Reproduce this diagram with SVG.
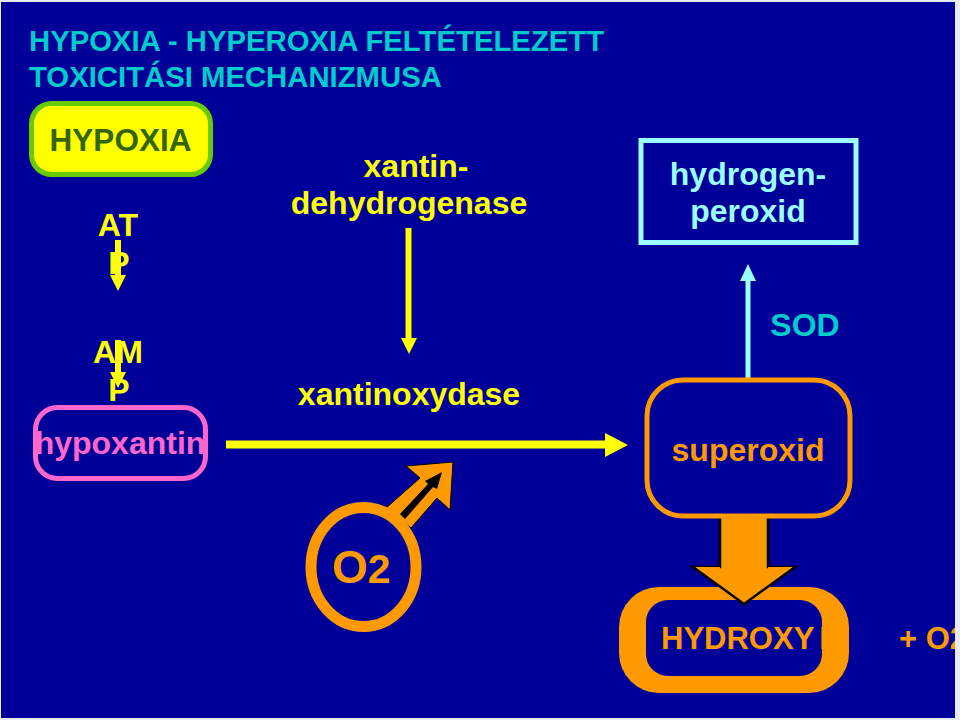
<svg xmlns="http://www.w3.org/2000/svg" width="960" height="720" viewBox="0 0 960 720">
<style>
text{font-family:"Liberation Sans",Arial,sans-serif;font-weight:bold;text-anchor:middle}
.t{fill:#00cccc;font-size:29.300px;text-anchor:start}
.y{fill:#ffff00;font-size:32px}
.c{fill:#99ffff;font-size:32px}
.o{fill:#ff9900;font-size:32px}
.w{fill:none;stroke-width:5}
</style>
<rect width="960" height="720" fill="#e8ecf8"/>
<rect x="1" y="2" width="954" height="716" fill="#000099"/>
<text class="t" x="29" y="51">HYPOXIA - HYPEROXIA FELTÉTELEZETT</text>
<text class="t" x="29" y="87">TOXICITÁSI MECHANIZMUSA</text>
<g id="connectors">
<path d="M118 240V276" stroke="#ffff00" stroke-width="6" fill="none"/><path d="M110 275H126L118 291Z" fill="#ffff00"/>
<path d="M118 340V373" stroke="#ffff00" stroke-width="6" fill="none"/><path d="M110 372H126L118 388Z" fill="#ffff00"/>
<path d="M408.500 228V340" stroke="#ffff00" stroke-width="6" fill="none"/><path d="M401 338H417L409 354Z" fill="#ffff00"/>
<path d="M226 444.500H606" stroke="#ffff00" stroke-width="8" fill="none"/><path d="M605 433L628 445L605 457Z" fill="#ffff00"/>
<path d="M748 378V280" stroke="#99ffff" stroke-width="5" fill="none"/><path d="M740 281L748 264L756 281Z" fill="#99ffff"/>
<path d="M720 515V567H693L744 604L795 567H768V515" fill="#ff9900" stroke="#000" stroke-width="2.500"/>
</g>
<g id="hypoxia"><rect x="31.500" y="103.500" width="179" height="71" rx="20" fill="#ffff00" stroke="#66cc00" stroke-width="5"/><text x="120.500" y="151" style="font-size:31.500px;fill:#336600">HYPOXIA</text></g>
<g id="atp"><text class="y" x="118" y="236">AT</text><text class="y" x="119" y="274">P</text></g>
<g id="amp"><text class="y" x="118" y="363">AM</text><text class="y" x="119" y="401">P</text></g>
<g id="hypoxantin"><rect x="35.500" y="407.500" width="170" height="71" rx="22" class="w" stroke="#ff66cc"/><text x="120" y="454" style="font-size:32px;fill:#ff66cc">hypoxantin</text></g>
<g id="xantindehydrogenase"><text class="y" x="416" y="177">xantin-</text><text class="y" x="409" y="214">dehydrogenase</text></g>
<g id="xantinoxydase"><text class="y" x="409" y="405">xantinoxydase</text></g>
<g id="hydrogenperoxid"><rect x="641" y="140.500" width="215" height="102" class="w" stroke="#99ffff"/><text class="c" x="748" y="185">hydrogen-</text><text class="c" x="748" y="222">peroxid</text></g>
<g id="sod"><text x="805" y="336" style="font-size:32px;fill:#00cccc">SOD</text></g>
<g id="superoxid"><rect x="647" y="380" width="203" height="136" rx="36" class="w" stroke="#ff9900"/><text class="o" x="748" y="461">superoxid</text></g>
<g id="o2">
<path d="M386 508L420 478L406 466L453 462L450 510L437 498L411 528Z" fill="#ff9900" stroke="#000" stroke-width="1"/>
<ellipse cx="363.500" cy="567" rx="52.500" ry="59.500" fill="#000099" stroke="#ff9900" stroke-width="11"/>
<path d="M400 514L428 484L425 481L442 472L437 489L433 487L405 519Z" fill="#000"/>
<text x="332" y="583" style="font-size:46px;fill:#ff9900;text-anchor:start">O<tspan style="font-size:41px">2</tspan></text>
</g>
<g id="hydroxyl">
<path fill-rule="evenodd" d="M659 587H809A40 40 0 0 1 849 627V653A40 40 0 0 1 809 693H659A40 40 0 0 1 619 653V627A40 40 0 0 1 659 587ZM668 600A22 22 0 0 0 646 622V654A22 22 0 0 0 668 676H800A22 22 0 0 0 822 654V622A22 22 0 0 0 800 600Z" fill="#ff9900"/>
<path d="M720 585V567H693L744 604L795 567H768V585Z" fill="#ff9900"/>
<path d="M693 567L744 604L795 567" fill="none" stroke="#000" stroke-width="2.500"/>
<text x="661" y="649" style="font-size:31px;fill:#ff9900;text-anchor:start">HYDROXY<tspan dx="5">L</tspan></text>
</g>
<g id="plus-o2"><text x="899" y="649" style="font-size:31px;fill:#ff9900;text-anchor:start">+ O2</text></g>
<path d="M955 0H960V720H955Z" fill="#e8ecf8"/>
</svg>
